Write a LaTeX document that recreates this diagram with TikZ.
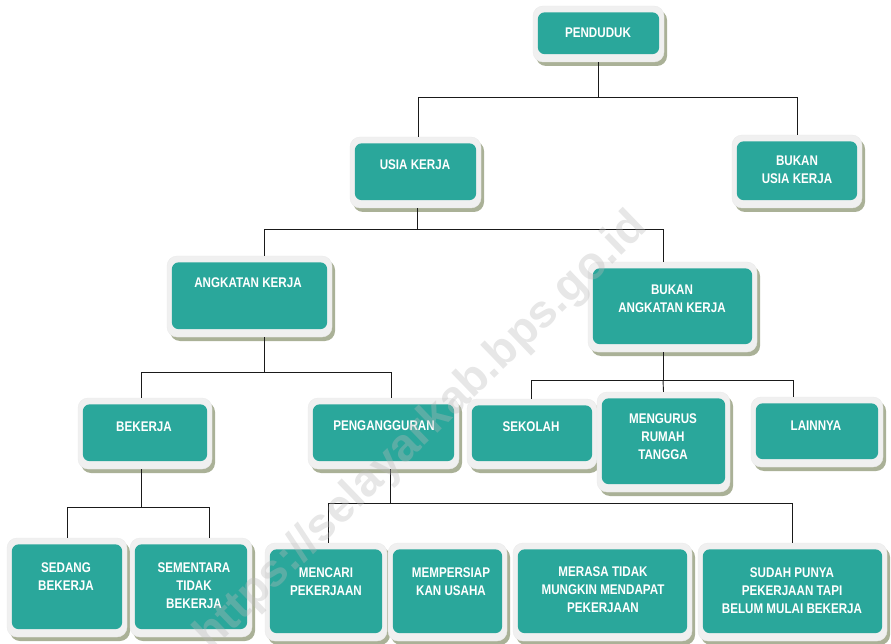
\documentclass[tikz,border=0pt]{standalone}
\usepackage{fontspec}
\newfontfamily\nar[FakeStretch=0.83]{Liberation Sans}
\newfontfamily\wmfont{Liberation Sans}
\usetikzlibrary{calc,shadows}
\definecolor{tealc}{HTML}{2AA79B}
\definecolor{outerc}{HTML}{F0F0F0}
\definecolor{shadowc}{HTML}{AAB197}
\definecolor{linec}{HTML}{1A1A1A}
\tikzset{
  ob/.style={rectangle, rounded corners=10pt, fill=outerc, draw=black!8, line width=0.4pt, inner sep=0pt,
    drop shadow={shadow xshift=3pt, shadow yshift=-4pt, fill=shadowc, opacity=1}},
  lbl/.style={text=white, font=\nar\bfseries\fontsize{14}{18}\selectfont, align=center, inner sep=0pt, anchor=north},
  conn/.style={draw=linec, line width=0.9pt},
}
\newcommand\obox[5]{%
  \node[ob, minimum width={#4pt-#2pt}, minimum height={#5pt-#3pt}] (#1) at ({(#2+#4)/2},{-(#3+#5)/2}) {};
  \fill[tealc, rounded corners=7pt] ($(#1.south west)+(5,8)$) rectangle ($(#1.north east)+(-5,-6.5)$);
}
\begin{document}
\begin{tikzpicture}[x=1pt,y=1pt]
\useasboundingbox (0,0) rectangle (891,-644);
% boxes
\obox{pend}{533}{6}{664}{62}
\obox{usia}{350}{137}{481}{208}
\obox{busk}{732}{135}{862}{208}
\obox{ak}{167}{256}{332}{337}
\obox{bak}{588}{262}{757}{352}
\obox{bek}{78}{398}{212}{469}
\obox{peng}{308}{398}{459}{469}
\obox{sek}{467}{399}{597}{469}
\obox{mrt}{597}{392}{730}{492}
\obox{lain}{751}{397}{883}{467}
\obox{sed}{7}{538}{127}{637}
\obox{sem}{130}{538}{252}{637}
\obox{menc}{265}{543}{387}{641}
\obox{memp}{388}{543}{507}{641}
\obox{meras}{513}{543}{692}{641}
\obox{sudah}{698}{543}{887}{641}
% labels
\node[lbl] (tpend) at (598,-28) {PENDUDUK};
\node[lbl] (tusia) at (415,-160) {USIA KERJA};
\node[lbl] (tbusk) at (797,-156) {BUKAN\\USIA KERJA};
\node[lbl] (tak) at (248,-278) {ANGKATAN KERJA};
\node[lbl] (tbak) at (672,-285) {BUKAN\\ANGKATAN KERJA};
\node[lbl] (tbek) at (144,-422) {BEKERJA};
\node[lbl] (tpeng) at (384,-421) {PENGANGGURAN};
\node[lbl] (tsek) at (531,-422) {SEKOLAH};
\node[lbl] (tmrt) at (663,-414) {MENGURUS\\RUMAH\\TANGGA};
\node[lbl] (tlain) at (816,-421) {LAINNYA};
\node[lbl] (tsed) at (66,-563) {SEDANG\\BEKERJA};
\node[lbl] (tsem) at (194,-563) {SEMENTARA\\TIDAK\\BEKERJA};
\node[lbl] (tmenc) at (326,-568) {MENCARI\\PEKERJAAN};
\node[lbl] (tmemp) at (451,-568) {MEMPERSIAP\\KAN USAHA};
\node[lbl] (tmeras) at (603,-567) {MERASA TIDAK\\MUNGKIN MENDAPAT\\PEKERJAAN};
\node[lbl] (tsudah) at (792,-568) {SUDAH PUNYA\\PEKERJAAN TAPI\\BELUM MULAI BEKERJA};
% connectors
\draw[conn] (pend.south) -- ++(0,-35) coordinate (j1);
\draw[conn] ($(usia.north)+(2.5,0)$) |- (j1) -| (busk.north);
\draw[conn] ($(usia.south)+(1.5,0)$) -- ++(0,-21) coordinate (j2);
\draw[conn] ($(ak.north)+(14.5,0)$) |- (j2) -| ($(bak.north)+(-9.5,0)$);
\draw[conn] ($(ak.south)+(14.5,0)$) -- ++(0,-35) coordinate (j3);
\draw[conn] ($(bek.north)+(-4,0)$) |- (j3) -| ($(peng.north)+(7.5,0)$);
\draw[conn] ($(bak.south)+(-9.5,0)$) -- ++(0,-28) coordinate (j4);
\draw[conn] ($(sek.north)+(-1,0)$) |- (j4) -| ($(lain.north)+(-24,0)$);
\draw[conn] (j4) -- (mrt.north);
\draw[conn] ($(bek.south)+(-4,0)$) -- ++(0,-38) coordinate (j5);
\draw[conn] ($(sed.north)+(0,0)$) |- (j5) -| ($(sem.north)+(18,0)$);
\draw[conn] ($(peng.south)+(6.5,0)$) -- ++(0,-34) coordinate (j6);
\draw[conn] ($(menc.north)+(2,0)$) |- (j6) -| ($(sudah.north)+(-0.5,0)$);
\draw[conn] ($(memp.north)+(-6.5,0)$) -- ($(memp.north)+(-6.5,0)$ |- j6);
\draw[conn] ($(meras.north)+(-5.5,0)$) -- ($(meras.north)+(-5.5,0)$ |- j6);
% watermark
\node[text=gray!55, opacity=0.35, rotate=44, font=\wmfont\bfseries\fontsize{46}{48}\selectfont, inner sep=0pt] (wm) at (422,-432) {https://selayarkab.bps.go.id};
\end{tikzpicture}
\end{document}
